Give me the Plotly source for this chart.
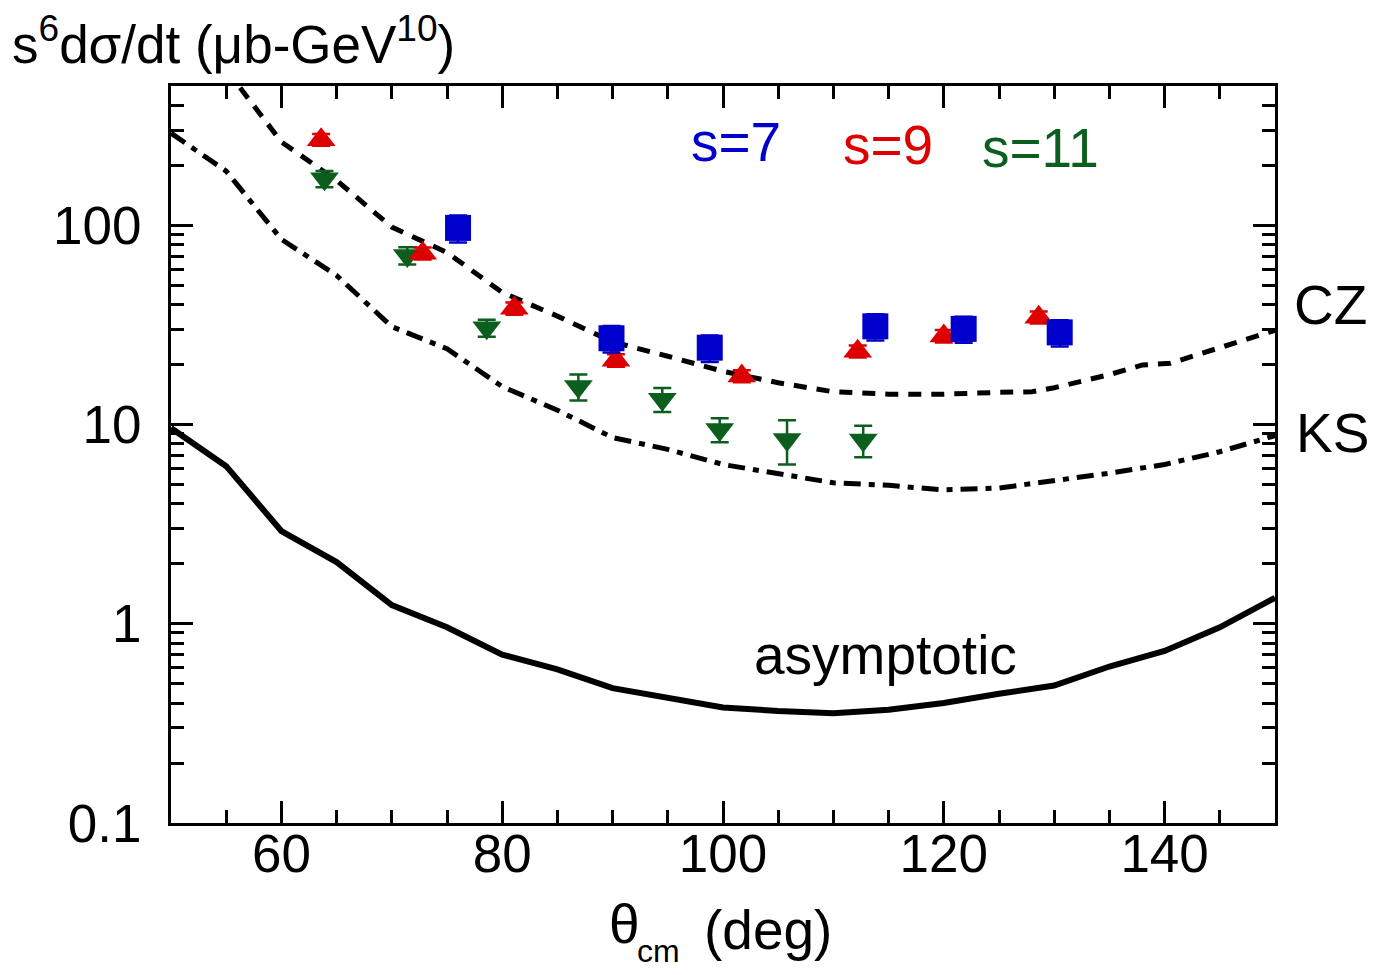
import plotly.graph_objects as go

# ---------------- data ----------------
cz_theta = [55, 60, 65, 70, 75, 80, 85, 90, 95, 100, 105, 110, 115, 120, 125, 128, 130, 135, 138, 140.5, 145, 150]
cz_vals = [605, 262, 168, 98, 73, 46, 35, 26, 22, 18.5, 16.2, 14.6, 14.2, 14.2, 14.5, 14.6, 15.3, 17.8, 19.9, 20.3, 24.3, 29.7]

ks_theta = [50, 55, 60, 65, 70, 75, 80, 85, 90, 95, 100, 105, 110, 115, 120, 125, 130, 135, 140, 145, 150]
ks_vals = [290, 187, 85, 56, 31, 24, 15.5, 11.8, 8.6, 7.5, 6.3, 5.7, 5.1, 4.95, 4.7, 4.8, 5.2, 5.7, 6.3, 7.3, 8.8]

asy_theta = [50, 55, 60, 65, 70, 75, 80, 85, 90, 95, 100, 105, 110, 115, 120, 125, 130, 135, 140, 145, 150]
asy_vals = [9.6, 6.18, 2.92, 2.04, 1.24, 0.96, 0.70, 0.59, 0.475, 0.424, 0.38, 0.365, 0.356, 0.37, 0.40, 0.445, 0.49, 0.61, 0.73, 0.96, 1.35]

s7_theta = [76.0, 89.9, 98.8, 113.8, 121.8, 130.5]
s7_vals = [97, 27.1, 24.3, 31.1, 30.2, 29.0]
s7_err = [15, 4.1, 3.7, 4.7, 4.5, 4.4]

s9_theta = [63.6, 72.8, 81.1, 90.3, 101.7, 112.2, 120.0, 128.6]
s9_vals = [269, 72.4, 38.3, 21.0, 17.5, 23.3, 27.8, 34.5]
s9_err = [18, 5, 2.7, 1.5, 1.2, 1.6, 2.0, 2.4]

s11_theta = [63.9, 71.4, 78.6, 86.9, 94.5, 99.7, 105.8, 112.7]
s11_vals = [171, 70.5, 30.6, 15.5, 13.4, 9.45, 8.4, 8.36]
s11_err = [16, 7, 3.0, 2.3, 1.85, 1.3, 2.1, 1.5]

y_tickvals = [0.1, 1, 10, 100]
y_ticktext = ["0.1", "1", "10", "100"]
y_minor = [0.2, 0.3, 0.4, 0.5, 0.6, 0.7, 0.8, 0.9,
           2, 3, 4, 5, 6, 7, 8, 9,
           20, 30, 40, 50, 60, 70, 80, 90,
           200, 300, 400]

BLUE = "#0000CC"
RED = "#DD0000"
GREEN = "#0B5E1E"
FONT = "Liberation Sans, Arial, sans-serif"
TICK_SIZE = 53
ANNO_SIZE = 55

fig = go.Figure()

fig.add_trace(go.Scatter(x=asy_theta, y=asy_vals, mode="lines",
                         line=dict(color="black", width=6), showlegend=False))
fig.add_trace(go.Scatter(x=cz_theta, y=cz_vals, mode="lines",
                         line=dict(color="black", width=5, dash="13px,10px"), showlegend=False))
fig.add_trace(go.Scatter(x=ks_theta, y=ks_vals, mode="lines",
                         line=dict(color="black", width=5, dash="17px,8px,6px,8px"), showlegend=False))

fig.add_trace(go.Scatter(x=s11_theta, y=s11_vals, mode="markers",
                         marker=dict(symbol="triangle-down", size=25, color=GREEN),
                         error_y=dict(type="data", array=s11_err, color=GREEN, thickness=2.5, width=9),
                         showlegend=False))
fig.add_trace(go.Scatter(x=s9_theta, y=s9_vals, mode="markers",
                         marker=dict(symbol="triangle-up", size=25, color=RED),
                         error_y=dict(type="data", array=s9_err, color=RED, thickness=2.5, width=9),
                         showlegend=False))
fig.add_trace(go.Scatter(x=s7_theta, y=s7_vals, mode="markers",
                         marker=dict(symbol="square", size=26, color=BLUE),
                         error_y=dict(type="data", array=s7_err, color=BLUE, thickness=2.5, width=9),
                         showlegend=False))

axis_common = dict(showline=True, linecolor="black", linewidth=3, mirror="allticks",
                   ticks="inside", ticklen=22, tickwidth=2.5, tickcolor="black",
                   showgrid=False, zeroline=False,
                   tickfont=dict(family=FONT, size=TICK_SIZE, color="black"))

fig.update_xaxes(range=[50, 150], dtick=20, tick0=0,
                 minor=dict(dtick=5, ticks="inside", ticklen=13, tickwidth=2.5, tickcolor="black"),
                 ticklabelstandoff=-18,
                 **axis_common)
fig.update_yaxes(type="log", range=[-1, 2.699],
                 tickmode="array", tickvals=y_tickvals, ticktext=y_ticktext,
                 minor=dict(tickmode="array", tickvals=y_minor, ticks="inside", ticklen=13,
                            tickwidth=2.5, tickcolor="black"),
                 ticklabelstandoff=16,
                 **axis_common)

annos = [
    dict(text="s=7", x=101.2, y=2.417, xref="x", yref="y", font=dict(color=BLUE, size=ANNO_SIZE)),
    dict(text="s=9", x=114.96, y=2.402, xref="x", yref="y", font=dict(color=RED, size=ANNO_SIZE)),
    dict(text="s=11", x=128.8, y=2.390, xref="x", yref="y", font=dict(color=GREEN, size=ANNO_SIZE)),
    dict(text="CZ", x=1.0507, y=0.703, xref="paper", yref="paper", font=dict(size=ANNO_SIZE)),
    dict(text="KS", x=1.0525, y=0.529, xref="paper", yref="paper", font=dict(size=ANNO_SIZE)),
    dict(text="asymptotic", x=0.6476, y=0.228, xref="paper", yref="paper", font=dict(size=ANNO_SIZE)),
    dict(text="θ", x=0.411, y=-0.137, xref="paper", yref="paper", font=dict(size=ANNO_SIZE)),
    dict(text="cm", x=0.442, y=-0.174, xref="paper", yref="paper", font=dict(size=32)),
    dict(text="(deg)", x=0.541, y=-0.145, xref="paper", yref="paper", font=dict(size=ANNO_SIZE)),
    dict(text="s<sup>6</sup>dσ/dt (μb-GeV<sup>10</sup>)", x=-0.146, y=1.062, xref="paper", yref="paper",
         xanchor="left", font=dict(size=53)),
]
for a in annos:
    a.setdefault("xanchor", "center")
    a.setdefault("yanchor", "middle")
    a["showarrow"] = False
    a["font"].setdefault("color", "black")
    a["font"]["family"] = FONT
    fig.add_annotation(**a)

fig.update_layout(width=1376, height=975,
                  margin=dict(l=171, r=101, t=86, b=152, autoexpand=False),
                  paper_bgcolor="white", plot_bgcolor="white",
                  font=dict(family=FONT, color="black"))

fig.write_html("out.html")
